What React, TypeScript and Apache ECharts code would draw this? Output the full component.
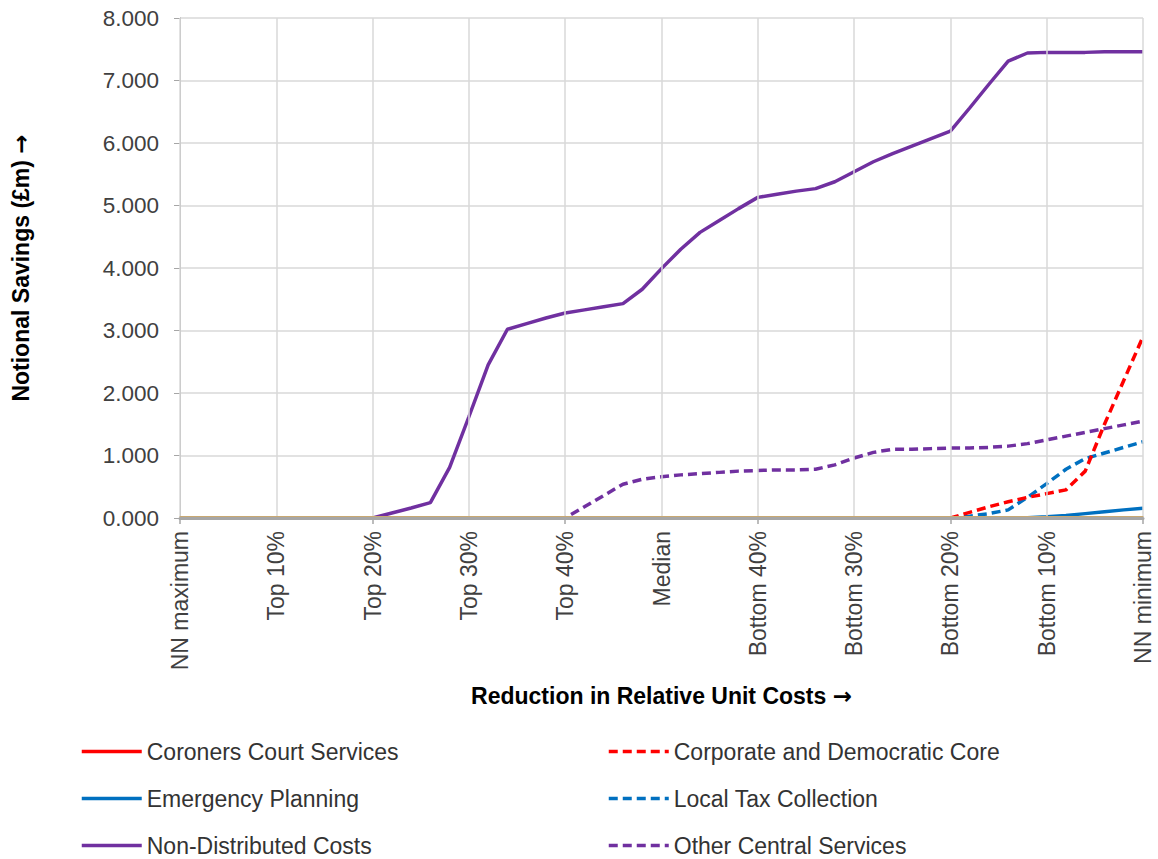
import React, { useEffect, useRef } from "react";
import * as echarts from "echarts";

const steps: string[] = [
  "0", "2", "4", "6", "8", "10", "12", "14", "16", "18",
  "20", "22", "24", "26", "28", "30", "32", "34", "36", "38",
  "40", "42", "44", "46", "48", "50", "52", "54", "56", "58",
  "60", "62", "64", "66", "68", "70", "72", "74", "76", "78",
  "80", "82", "84", "86", "88", "90", "92", "94", "96", "98", "100",
];

const tickLabels: string[] = [
  "NN maximum", "Top 10%", "Top 20%", "Top 30%", "Top 40%", "Median",
  "Bottom 40%", "Bottom 30%", "Bottom 20%", "Bottom 10%", "NN minimum",
];

const coronersCourt: number[] = [
  0, 0, 0, 0, 0, 0, 0, 0, 0, 0,
  0, 0, 0, 0, 0, 0, 0, 0, 0, 0,
  0, 0, 0, 0, 0, 0, 0, 0, 0, 0,
  0, 0, 0, 0, 0, 0, 0, 0, 0, 0,
  0, 0, 0, 0, 0, 0, 0, 0, 0, 0, 0,
];

const corporateDemocratic: number[] = [
  0, 0, 0, 0, 0, 0, 0, 0, 0, 0,
  0, 0, 0, 0, 0, 0, 0, 0, 0, 0,
  0, 0, 0, 0, 0, 0, 0, 0, 0, 0,
  0, 0, 0, 0, 0, 0, 0, 0, 0, 0,
  0, 0.09, 0.18, 0.26, 0.33, 0.39, 0.45, 0.75, 1.5, 2.2, 2.9,
];

const emergencyPlanning: number[] = [
  0, 0, 0, 0, 0, 0, 0, 0, 0, 0,
  0, 0, 0, 0, 0, 0, 0, 0, 0, 0,
  0, 0, 0, 0, 0, 0, 0, 0, 0, 0,
  0, 0, 0, 0, 0, 0, 0, 0, 0, 0,
  0, 0, 0, 0, 0.005, 0.02, 0.04, 0.07, 0.1, 0.13, 0.155,
];

const localTax: number[] = [
  0, 0, 0, 0, 0, 0, 0, 0, 0, 0,
  0, 0, 0, 0, 0, 0, 0, 0, 0, 0,
  0, 0, 0, 0, 0, 0, 0, 0, 0, 0,
  0, 0, 0, 0, 0, 0, 0, 0, 0, 0,
  0, 0.03, 0.07, 0.13, 0.33, 0.55, 0.78, 0.95, 1.04, 1.13, 1.22,
];

const nonDistributed: number[] = [
  0, 0, 0, 0, 0, 0, 0, 0, 0, 0,
  0, 0.08, 0.16, 0.245, 0.81, 1.62, 2.45, 3.02, 3.11, 3.2,
  3.28, 3.33, 3.38, 3.43, 3.66, 3.99, 4.3, 4.57, 4.76, 4.95,
  5.13, 5.18, 5.23, 5.27, 5.38, 5.54, 5.7, 5.83, 5.95, 6.07,
  6.19, 6.56, 6.94, 7.31, 7.44, 7.45, 7.45, 7.45, 7.46, 7.46, 7.46,
];

const otherCentral: number[] = [
  0, 0, 0, 0, 0, 0, 0, 0, 0, 0,
  0, 0, 0, 0, 0, 0, 0, 0, 0, 0,
  0, 0.18, 0.36, 0.54, 0.62, 0.66, 0.69, 0.71, 0.73, 0.75,
  0.76, 0.77, 0.77, 0.78, 0.85, 0.96, 1.05, 1.1, 1.1, 1.11,
  1.12, 1.12, 1.13, 1.15, 1.19, 1.25, 1.31, 1.37, 1.43, 1.49, 1.55,
];

const FONT = "'Liberation Sans', Arial, sans-serif";
const ARROW_FONT = "'DejaVu Sans', sans-serif";

export default function App() {
  const ref = useRef<HTMLDivElement>(null);

  useEffect(() => {
    if (!ref.current) return;
    const chart = echarts.init(ref.current, null, { renderer: "svg" });

    const mk = (name: string, data: number[], color: string, dashed: boolean) => ({
      name,
      type: "line",
      data,
      symbol: "none",
      xAxisIndex: 0,
      lineStyle: {
        color,
        width: 3.5,
        type: dashed ? [9, 5] : "solid",
      },
      itemStyle: { color },
    });

    const nameRich = {
      a: { fontWeight: "bold", fontSize: 23, color: "#000000", fontFamily: FONT },
      b: { fontWeight: "bold", fontSize: 23, color: "#000000", fontFamily: ARROW_FONT },
    };

    const legendBase = {
      orient: "vertical",
      top: 740,
      padding: 0,
      itemWidth: 60,
      itemHeight: 14,
      itemGap: 24,
      itemStyle: { opacity: 0, color: "transparent", borderWidth: 0 },
      lineStyle: { width: 3.5 },
      textStyle: { fontSize: 23, color: "#333333", fontFamily: FONT },
    };

    const option: any = {
      animation: false,
      backgroundColor: "#ffffff",
      textStyle: { fontFamily: FONT },
      grid: { left: 180, right: 15, top: 18, bottom: 341, containLabel: false },
      xAxis: [
        {
          type: "category",
          data: steps,
          boundaryGap: false,
          z: 5,
          name: "{a|Reduction in Relative Unit Costs }{b|\u2192}",
          nameLocation: "middle",
          nameGap: 166,
          nameTextStyle: { rich: nameRich },
          axisLine: { show: true, lineStyle: { color: "#A6A6A6", width: 3 } },
          axisTick: {
            show: true,
            interval: (i: number) => i % 10 === 0,
            length: 6,
            lineStyle: { color: "#A6A6A6", width: 1.5 },
          },
          axisLabel: {
            interval: (i: number) => i % 5 === 0,
            formatter: (_v: string, i: number) => (i % 5 === 0 ? tickLabels[i / 5] : ""),
            rotate: 90,
            fontSize: 23,
            color: "#404040",
            margin: 13,
            fontFamily: FONT,
          },
          splitLine: {
            show: true,
            interval: (i: number) => i % 5 === 0,
            lineStyle: { color: "#D9D9D9", width: 1.5 },
          },
        },
        {
          type: "category",
          data: steps,
          boundaryGap: false,
          position: "bottom",
          offset: -2,
          z: 6,
          axisLine: { show: true, lineStyle: { color: "#C8A872", width: 1 } },
          axisTick: { show: false },
          axisLabel: { show: false },
          splitLine: { show: false },
        },
      ],
      yAxis: {
        type: "value",
        min: 0,
        max: 8,
        interval: 1,
        name: "{a|Notional Savings (\u00a3m) }{b|\u2192}",
        nameLocation: "middle",
        nameGap: 148,
        nameTextStyle: { rich: nameRich },
        axisLine: { show: true, lineStyle: { color: "#A6A6A6", width: 1 } },
        axisTick: { show: true, length: 6, lineStyle: { color: "#A6A6A6", width: 1 } },
        axisLabel: {
          formatter: (v: number) => v.toFixed(3),
          fontSize: 22.5,
          color: "#404040",
          margin: 21,
          fontFamily: FONT,
        },
        splitLine: { show: true, lineStyle: { color: "#D9D9D9", width: 1.5 } },
      },
      legend: [
        {
          ...legendBase,
          left: 80,
          data: ["Coroners Court Services", "Emergency Planning", "Non-Distributed Costs"],
        },
        {
          ...legendBase,
          left: 607,
          data: ["Corporate and Democratic Core", "Local Tax Collection", "Other Central Services"],
        },
      ],
      series: [
        mk("Coroners Court Services", coronersCourt, "#FF0000", false),
        mk("Emergency Planning", emergencyPlanning, "#0070C0", false),
        mk("Non-Distributed Costs", nonDistributed, "#7030A0", false),
        mk("Other Central Services", otherCentral, "#7030A0", true),
        mk("Local Tax Collection", localTax, "#0070C0", true),
        mk("Corporate and Democratic Core", corporateDemocratic, "#FF0000", true),
      ],
    };

    chart.setOption(option);
    return () => chart.dispose();
  }, []);

  return (
    <div
      ref={ref}
      style={{ position: "fixed", left: 0, top: 0, width: 1158, height: 859, background: "#fff" }}
    />
  );
}
